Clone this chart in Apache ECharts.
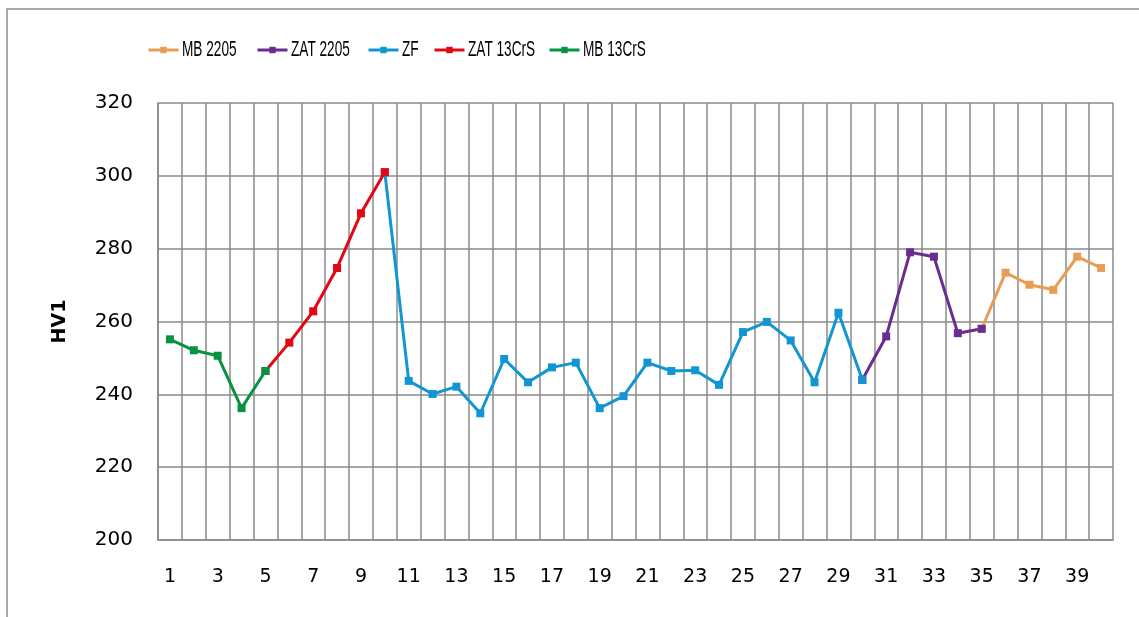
<!DOCTYPE html>
<html>
<head>
<meta charset="utf-8">
<script src="https://cdn.jsdelivr.net/npm/echarts@6/dist/echarts.min.js"></script>
<style>
  html, body { margin: 0; padding: 0; background: #fff; }
  #chart { width: 1139px; height: 617px; }
</style>
</head>
<body>
<div id="chart"></div>
<script>
// Sample positions 1..40
const categories = ['1','2','3','4','5','6','7','8','9','10','11','12','13','14','15','16','17','18','19','20',
  '21','22','23','24','25','26','27','28','29','30','31','32','33','34','35','36','37','38','39','40'];

// HV1 hardness per position
const hv1 = [255.1, 252.1, 250.6, 236.2, 246.4, 254.2, 262.8, 274.7, 289.7, 301.0,
  243.7, 240.1, 242.1, 234.8, 249.7, 243.3, 247.4, 248.7, 236.2, 239.5,
  248.7, 246.4, 246.6, 242.6, 257.1, 259.9, 254.8, 243.3, 262.4, 244.0,
  255.9, 279.0, 277.8, 256.8, 258.0, 273.4, 270.1, 268.7, 277.8, 274.7];

// Zone names and the first/last position (1-based) each zone covers
const zoneNames = ['MB 2205', 'ZAT 2205', 'ZF', 'ZAT 13CrS', 'MB 13CrS'];
const zoneStart = [35, 30, 10, 5, 1];
const zoneEnd = [40, 35, 30, 10, 5];
const zoneColors = ['#E69E57', '#6B2C91', '#1296D3', '#E30613', '#089241'];

// y-axis range
const yMin = 200, yMax = 320, yStep = 20;

const gridColor = '#8A8A8A';
const axisFont = 'DejaVu Sans';

// Legend layout: icon left edges, with condensed labels beside them
const legendX = [147, 256, 367, 433, 548];
const legendY = 50;

const series = zoneNames.map((name, k) => ({
  name: name,
  type: 'line',
  data: hv1.map((v, i) => (i + 1 >= zoneStart[k] && i + 1 <= zoneEnd[k]) ? v : null),
  symbol: 'rect',
  symbolSize: 8,
  showSymbol: true,
  connectNulls: false,
  itemStyle: { color: zoneColors[k] },
  lineStyle: { color: zoneColors[k], width: 3 },
  emphasis: { disabled: true }
}));

// one legend per zone so each icon sits at its own x
const legends = zoneNames.map((name, k) => ({
  left: legendX[k],
  top: legendY - 4,
  padding: 0,
  itemWidth: 30,
  itemHeight: 8,
  itemGap: 0,
  selectedMode: false,
  formatter: () => '',
  lineStyle: { width: 3 },
  textStyle: { fontSize: 8, padding: 0 },
  data: [name]
}));

// condensed legend labels: a horizontally squeezed group per label
const legendLabels = zoneNames.map((name, k) => ({
  type: 'group',
  x: legendX[k] + 35,
  y: legendY,
  scaleX: 0.62,
  scaleY: 1,
  silent: true,
  children: [{
    type: 'text',
    x: 0,
    y: 0,
    style: {
      text: name,
      fontSize: 22,
      fontFamily: '"Liberation Sans", Arial, sans-serif',
      fill: '#000',
      verticalAlign: 'middle',
      align: 'left'
    }
  }]
}));

const chart = echarts.init(document.getElementById('chart'), null, { renderer: 'canvas' });
chart.setOption({
  animation: false,
  backgroundColor: '#fff',
  graphic: [{
    type: 'rect',
    shape: { x: 7, y: 9, width: 1300, height: 800 },
    style: { fill: 'none', stroke: '#8C8C8C', lineWidth: 1.5 },
    silent: true
  }].concat(legendLabels),
  legend: legends,
  grid: { left: 158, top: 103, right: 26, bottom: 77 },
  xAxis: {
    type: 'category',
    data: categories,
    boundaryGap: true,
    axisLine: { show: true, lineStyle: { color: gridColor, width: 1.5 } },
    axisTick: { show: false, interval: 0 },
    axisLabel: { interval: 1, margin: 28, fontFamily: axisFont, fontSize: 19, color: '#000' },
    splitLine: { show: true, interval: 0, lineStyle: { color: gridColor, width: 1.5 } }
  },
  yAxis: {
    type: 'value',
    min: yMin,
    max: yMax,
    interval: yStep,
    name: 'HV1',
    nameLocation: 'middle',
    nameGap: 88,
    nameRotate: 90,
    nameTextStyle: { fontFamily: axisFont, fontWeight: 'bold', fontSize: 19, color: '#000' },
    axisLine: { show: true, lineStyle: { color: gridColor, width: 1.5 } },
    axisTick: { show: false },
    axisLabel: { margin: 25, fontFamily: axisFont, fontSize: 20, color: '#000' },
    splitLine: { show: true, lineStyle: { color: gridColor, width: 1.5 } }
  },
  series: series
});
</script>
</body>
</html>
